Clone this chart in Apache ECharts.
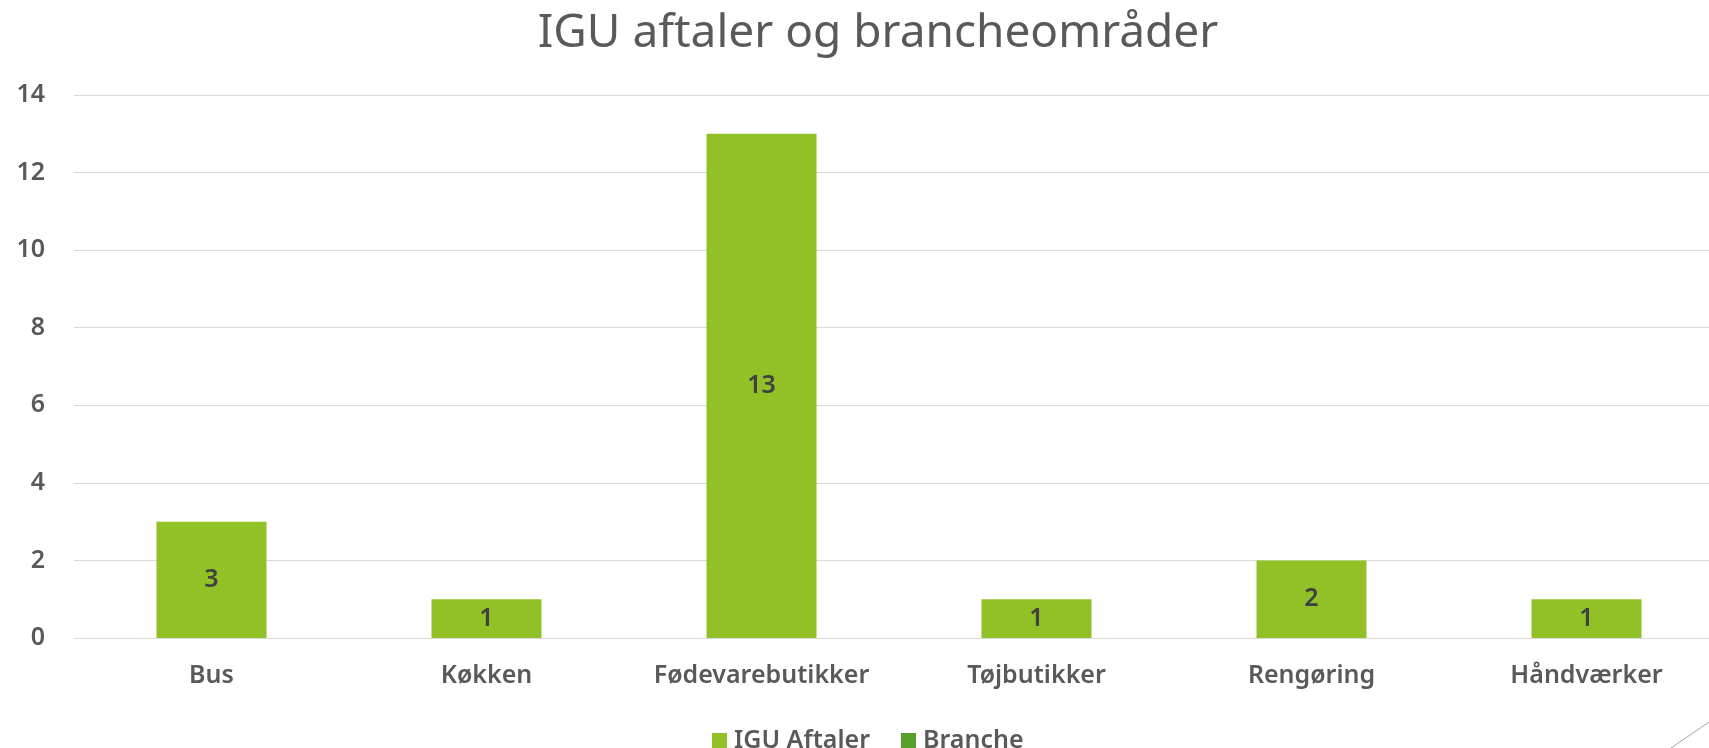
<!DOCTYPE html>
<html>
<head>
<meta charset="utf-8">
<script src="https://cdn.jsdelivr.net/npm/echarts@6/dist/echarts.min.js"></script>
<style>
html,body{margin:0;padding:0;background:#fff;}
#c{width:1709px;height:748px;}
</style>
</head>
<body>
<div id="c"></div>
<script>
const titleText = 'IGU aftaler og brancheområder';
const categories = ['Bus', 'Køkken', 'Fødevarebutikker', 'Tøjbutikker', 'Rengøring', 'Håndværker'];
const seriesNames = ['IGU Aftaler', 'Branche'];
const iguValues = [3, 1, 13, 1, 2, 1];
const brancheValues = [null, null, null, null, null, null];
const yTicks = [0, 2, 4, 6, 8, 10, 12, 14];

const FONT = 'Noto Sans';
const TXT = '#595959';
const W = 600;
const chart = echarts.init(document.getElementById('c'));
chart.setOption({
  animation: false,
  backgroundColor: '#ffffff',
  title: {
    text: titleText,
    left: 873, top: 6, textAlign: 'center',
    textStyle: {fontFamily: FONT, fontSize: 46, fontWeight: 'normal', color: TXT}
  },
  legend: {
    data: seriesNames,
    top: 723, left: 707,
    itemWidth: 15, itemHeight: 15, itemGap: 31,
    icon: 'rect',
    textStyle: {fontFamily: FONT, fontSize: 25, fontWeight: W, color: TXT, padding: [0, 0, 0, 2]}
  },
  grid: {left: 74, right: -15, top: 95, bottom: 110, containLabel: false, outerBoundsMode: 'none'},
  xAxis: {
    type: 'category',
    data: categories,
    axisLine: {lineStyle: {color: '#D9D9D9', width: 1}},
    axisTick: {show: false},
    axisLabel: {interval: 0, hideOverlap: false, fontFamily: FONT, fontSize: 25, fontWeight: W, color: TXT, margin: 25}
  },
  yAxis: {
    type: 'value',
    min: 0, max: 14, interval: 2,
    axisLine: {show: false},
    axisTick: {show: false},
    splitLine: {lineStyle: {color: '#D9D9D9', width: 1}},
    axisLabel: {fontFamily: FONT, fontSize: 25, fontWeight: W, color: TXT, margin: 29,
      formatter: v => yTicks.includes(v) ? String(v) : ''}
  },
  series: [
    {
      name: seriesNames[0], type: 'bar', data: iguValues,
      barWidth: '40%', barGap: '-100%',
      itemStyle: {color: '#92C127'},
      label: {show: true, position: 'inside', fontFamily: FONT, fontSize: 25, fontWeight: W, color: '#404040'}
    },
    {
      name: seriesNames[1], type: 'bar', data: brancheValues,
      barWidth: '40%',
      itemStyle: {color: '#57A02B'}
    }
  ],
  graphic: [{
    type: 'line', silent: true,
    shape: {x1: 1712, y1: 720, x2: 1668, y2: 750},
    style: {stroke: '#A6A6A6', lineWidth: 1}
  }]
});
</script>
</body>
</html>
